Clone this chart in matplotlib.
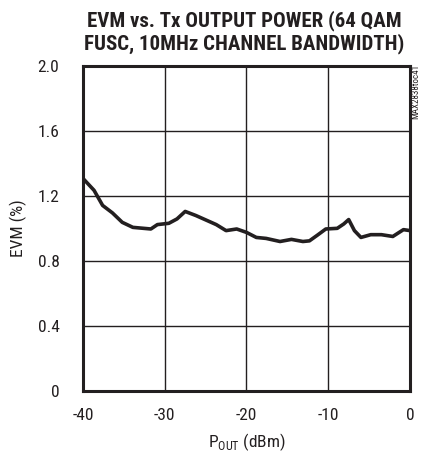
import matplotlib
matplotlib.use("Agg")
import matplotlib.pyplot as plt
from matplotlib import font_manager
from matplotlib.font_manager import FontProperties

def wnum(w):
    if isinstance(w, (int, float)):
        return w
    return {"bold": 700, "heavy": 800, "black": 900, "demibold": 600, "semibold": 600,
            "normal": 400, "regular": 400, "book": 400, "light": 300, "medium": 500}.get(str(w).lower(), 400)

pref = ["Roboto Condensed", "Liberation Sans Narrow", "Open Sans Condensed", "DejaVu Sans"]
def pick(weight_ok):
    best = None
    for f in font_manager.fontManager.ttflist:
        narrow = ("Narrow" in f.name or "Condensed" in f.name or "condensed" in str(f.stretch))
        if not narrow or f.style != "normal" or not weight_ok(wnum(f.weight)):
            continue
        rank = next((i for i, p in enumerate(pref) if f.name.startswith(p)), len(pref))
        if best is None or rank < best[0]:
            best = (rank, f.fname)
    return best[1] if best else None

bold_path = pick(lambda w: w >= 700)
reg_path = pick(lambda w: 400 <= w < 600)
title_fp = FontProperties(fname=bold_path) if bold_path else FontProperties(family="Liberation Sans", weight="bold")
reg_fp = FontProperties(fname=reg_path) if reg_path else FontProperties(family="Liberation Sans")
plt.rcParams['font.family'] = ["Liberation Sans", 'DejaVu Sans']

pout = [-40, -38.65, -37.6, -36.4, -35.2, -33.9, -31.7, -30.9, -29.5, -28.5, -27.5,
        -26.2, -23.7, -22.5, -21.2, -20, -18.8, -17.6, -15.9, -14.5, -13.1, -12.3,
        -11.3, -10.3, -8.9, -8.1, -7.5, -6.8, -6.0, -4.8, -3.5, -2.1, -0.8, 0]
evm = [1.308, 1.235, 1.142, 1.096, 1.038, 1.007, 0.997, 1.024, 1.032, 1.059, 1.105,
       1.08, 1.024, 0.987, 0.997, 0.976, 0.945, 0.939, 0.920, 0.933, 0.920, 0.924,
       0.960, 0.997, 1.001, 1.028, 1.055, 0.987, 0.945, 0.962, 0.962, 0.951, 0.993, 0.987]
xticks = [-40, -30, -20, -10, 0]
yticks = [0, 0.4, 0.8, 1.2, 1.6, 2.0]
ylabels = ["0", "0.4", "0.8", "1.2", "1.6", "2.0"]

ink = "#231f20"
fig = plt.figure(figsize=(4.22, 4.58), dpi=100)
ax = fig.add_axes([83/422, 67/458, 327/422, 325/458])
ax.plot(pout, evm, color=ink, lw=2.6, solid_capstyle="round", solid_joinstyle="round", zorder=3)
ax.set_xlim(-40, 0)
ax.set_ylim(0, 2.0)
ax.set_xticks(xticks)
ax.set_xticklabels([str(t) for t in xticks])
ax.set_yticks(yticks)
ax.set_yticklabels(ylabels)
ax.grid(True, color=ink, lw=1.0)
ax.tick_params(axis="y", length=0, pad=17, colors=ink)
ax.tick_params(axis="x", length=0, pad=12, colors=ink)
tick_fp = reg_fp.copy()
tick_fp.set_size(12.5)
for lab in ax.get_xticklabels() + ax.get_yticklabels():
    lab.set_fontproperties(tick_fp)
for s in ax.spines.values():
    s.set_linewidth(2.2)
    s.set_color(ink)
lab_fp = reg_fp.copy()
lab_fp.set_size(12.5)
ax.set_ylabel("EVM (%)", fontproperties=lab_fp, color=ink)
ax.yaxis.set_label_coords(-0.172, 0.5)
ax.set_xlabel(r"P$_{\mathregular{OUT}}$ (dBm)", fontproperties=lab_fp, labelpad=6, color=ink)
tfp = title_fp.copy()
tfp.set_size(15)
fig.text(0.578, 0.978, "EVM vs. Tx OUTPUT POWER (64 QAM\nFUSC, 10MHz CHANNEL BANDWIDTH)",
         ha="center", va="top", fontproperties=tfp, linespacing=1.15, color=ink)
sfp = reg_fp.copy()
sfp.set_size(6.5)
fig.text(0.985, 0.86, "MAX2838toc41", rotation=90, ha="center", va="top", fontproperties=sfp, color=ink)
fig.savefig("out.png", dpi=100)
